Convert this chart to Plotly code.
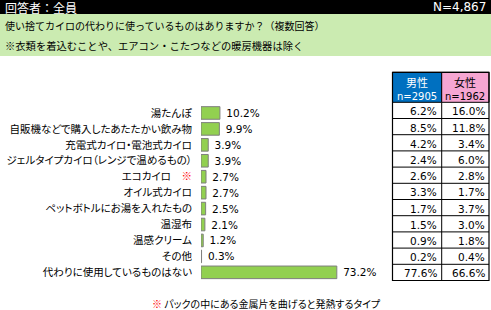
import plotly.graph_objects as go

categories = [
    "湯たんぽ",
    "自販機などで購入したあたたかい飲み物",
    "充電式カイロ・電池式カイロ",
    "ジェルタイプカイロ（レンジで温めるもの）",
    "エコカイロ",
    "オイル式カイロ",
    "ペットボトルにお湯を入れたもの",
    "温湿布",
    "温感クリーム",
    "その他",
    "代わりに使用しているものはない",
]
marked = ["エコカイロ"]
total = [10.2, 9.9, 3.9, 3.9, 2.7, 2.7, 2.5, 2.1, 1.2, 0.3, 73.2]
male = [6.2, 8.5, 4.2, 2.4, 2.6, 3.3, 1.7, 1.5, 0.9, 0.2, 77.6]
female = [16.0, 11.8, 3.4, 6.0, 2.8, 1.7, 3.7, 3.0, 1.8, 0.4, 66.6]
header_left = "回答者：全員"
header_right = "N=4,867"
question = "使い捨てカイロの代わりに使っているものはありますか？（複数回答）"
note = "※衣類を着込むことや、エアコン・こたつなどの暖房機器は除く"
footnote = "パックの中にある金属片を曲げると発熱するタイプ"
group_names = ["男性", "女性"]
group_n = ["n=2905", "n=1962"]

W, H = 491, 310
JP = "Noto Sans CJK JP"
NUM = "DejaVu Sans"
PALT = "<span style='font-feature-settings:\"palt\"'>{}</span>"
MARK = "<span style='color:#FF0000'>※</span>"

def py(px):
    return 1 - px / H

def pxx(px):
    return px / W

def label(c):
    s = PALT.format(c)
    if c in marked:
        s += "\u3000" + MARK
    return s

fig = go.Figure()
fig.add_trace(go.Bar(
    y=categories, x=total, orientation="h",
    marker=dict(color="#92D050", line=dict(color="#7F7F7F", width=1)),
    text=["\u00a0" + f"{v:.1f}%" for v in total],
    textposition="outside", cliponaxis=False,
    textfont=dict(family=NUM, size=10.5, color="#000000"),
    hoverinfo="skip",
))

# table geometry (pixels)
col_x = [392.5, 441.7, 489.0]
head_top, head_bot = 72.3, 102.3
row_h = 16.2
n_rows = len(male)
tab_bot = head_bot + row_h * n_rows
head_fill = ["#0070C0", "#F6A6D2"]
head_color = ["#FFFFFF", "#000000"]

shapes = [
    dict(type="rect", xref="paper", yref="paper", x0=0, x1=1, y0=py(14), y1=1,
         fillcolor="#000000", line=dict(width=0), layer="below"),
    dict(type="rect", xref="paper", yref="paper", x0=0, x1=1, y0=py(56), y1=py(14),
         fillcolor="#CBEBB1", line=dict(width=0), layer="below"),
]
annotations = [
    dict(text=header_left, x=pxx(3), y=py(7), xref="paper", yref="paper",
         xanchor="left", yanchor="middle", showarrow=False,
         font=dict(family=JP, size=12, color="#FFFFFF")),
    dict(text=header_right, x=pxx(488), y=py(7), xref="paper", yref="paper",
         xanchor="right", yanchor="middle", showarrow=False,
         font=dict(family=NUM, size=12, color="#FFFFFF")),
    dict(text=question, x=pxx(3), y=py(26), xref="paper", yref="paper",
         xanchor="left", yanchor="middle", showarrow=False,
         font=dict(family=JP, size=10, color="#000000")),
    dict(text=note, x=pxx(3), y=py(45.5), xref="paper", yref="paper",
         xanchor="left", yanchor="middle", showarrow=False,
         font=dict(family=JP, size=10.3, color="#000000")),
    dict(text=MARK + " " + PALT.format(footnote), x=pxx(150), y=py(303.5),
         xref="paper", yref="paper",
         xanchor="left", yanchor="middle", showarrow=False,
         font=dict(family=JP, size=10, color="#000000")),
]

for c, (name, nlab) in enumerate(zip(group_names, group_n)):
    x0, x1 = col_x[c], col_x[c + 1]
    shapes.append(dict(type="rect", xref="paper", yref="paper",
                       x0=pxx(x0), x1=pxx(x1), y0=py(head_bot), y1=py(head_top),
                       fillcolor=head_fill[c], line=dict(color="#000000", width=1)))
    xc = pxx((x0 + x1) / 2)
    annotations.append(dict(text=name, x=xc, y=py(81.5), xref="paper", yref="paper",
                            xanchor="center", yanchor="middle", showarrow=False,
                            font=dict(family=JP, size=11, color=head_color[c])))
    annotations.append(dict(text=nlab, x=xc, y=py(96), xref="paper", yref="paper",
                            xanchor="center", yanchor="middle", showarrow=False,
                            font=dict(family=NUM, size=10, color=head_color[c])))
    vals = male if c == 0 else female
    for r, v in enumerate(vals):
        yc = head_bot + row_h * (r + 0.5) + 1
        annotations.append(dict(text=f"{v:.1f}%", x=pxx(x1 - 2.5), y=py(yc),
                                xref="paper", yref="paper", xanchor="right",
                                yanchor="middle", showarrow=False,
                                font=dict(family=NUM, size=10.5, color="#000000")))

# table lines
for r in range(1, n_rows):
    yy = py(head_bot + row_h * r)
    shapes.append(dict(type="line", xref="paper", yref="paper",
                       x0=pxx(col_x[0]), x1=pxx(col_x[-1]), y0=yy, y1=yy,
                       line=dict(color="#000000", width=1)))
shapes.append(dict(type="line", xref="paper", yref="paper",
                   x0=pxx(col_x[1]), x1=pxx(col_x[1]), y0=py(tab_bot), y1=py(head_bot),
                   line=dict(color="#000000", width=1)))
shapes.append(dict(type="rect", xref="paper", yref="paper",
                   x0=pxx(col_x[0]), x1=pxx(col_x[-1]), y0=py(tab_bot), y1=py(head_top),
                   line=dict(color="#000000", width=1.2)))

fig.update_layout(
    width=W, height=H,
    margin=dict(l=0, r=0, t=0, b=0, autoexpand=False),
    paper_bgcolor="#FFFFFF", plot_bgcolor="#FFFFFF",
    showlegend=False,
    bargap=0.21,
    xaxis=dict(domain=[pxx(201), pxx(391)], range=[0, 102.4],
               visible=False, fixedrange=True, automargin=False),
    yaxis=dict(domain=[py(280.3), py(105)], autorange="reversed",
               showgrid=False, zeroline=False, showline=False, ticks="",
               ticklabelstandoff=8, automargin=False,
               tickmode="array", tickvals=categories,
               ticktext=[label(c) for c in categories],
               tickfont=dict(family=JP, size=10.5, color="#000000"),
               fixedrange=True),
    font=dict(family=JP),
    shapes=shapes,
    annotations=annotations,
)

fig.write_html("out.html", config={"displayModeBar": False})
